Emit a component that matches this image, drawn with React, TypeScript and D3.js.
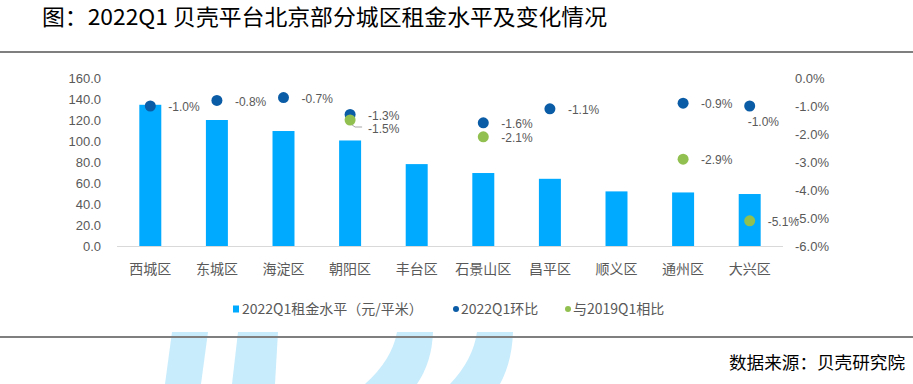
import { useEffect, useRef } from "react";
import * as d3 from "d3";

// data
const districts = ["西城区", "东城区", "海淀区", "朝阳区", "丰台区", "石景山区", "昌平区", "顺义区", "通州区", "大兴区"];
const rentLevel = [134.5, 120, 109.5, 100.5, 78, 69.5, 64, 52, 51, 49.5];
const qoqChange: (number | null)[] = [-1.0, -0.8, -0.7, -1.3, null, -1.6, -1.1, null, -0.9, -1.0];
const vs2019Change: (number | null)[] = [null, null, null, -1.5, null, -2.1, null, null, -2.9, -5.1];
const leftTicks = [0, 20, 40, 60, 80, 100, 120, 140, 160];
const rightTicks = [0, -1, -2, -3, -4, -5, -6];
const legendNames = ["2022Q1租金水平（元/平米）", "2022Q1环比", "与2019Q1相比"];

const W = 913;
const H = 384;
const BAR = "#00AAFF";
const DARK = "#0B5CA6";
const GREEN = "#92C050";
const GREY = "#595959";
const FONT = "'Noto Sans CJK SC', 'Liberation Sans', sans-serif";
const NUM_FONT = "'Liberation Sans', Arial, sans-serif";

const App = () => {
  const ref = useRef<SVGSVGElement>(null);

  useEffect(() => {
    document.body.style.margin = "0";
    const svg = d3.select(ref.current);
    svg.selectAll("*").remove();

    // watermark shapes
    const wm = svg.append("g").attr("fill", "#C8ECFC");
    wm.append("path").attr("d", "M172,332 L208,332 L201,384 L165,384 Z");
    wm.append("path").attr("d", "M238,332 L278,332 L275,384 L232,384 Z");
    wm.append("path").attr("d", "M397,332 L433,332 Q432,362 417,384 L365,384 Q392,360 397,332 Z");
    wm.append("path").attr("d", "M477,332 L513,332 Q512,362 500,384 L450,384 Q473,360 477,332 Z");

    // title and rules
    svg.append("text")
      .attr("x", 42).attr("y", 25)
      .attr("font-family", FONT).attr("font-size", 22).attr("fill", "#000")
      .attr("textLength", 565).attr("lengthAdjust", "spacingAndGlyphs")
      .text("图：2022Q1 贝壳平台北京部分城区租金水平及变化情况");
    svg.append("line").attr("x1", 0).attr("x2", W).attr("y1", 52).attr("y2", 52)
      .attr("stroke", "#7F7F7F").attr("stroke-width", 2);
    svg.append("line").attr("x1", 0).attr("x2", W).attr("y1", 337).attr("y2", 337)
      .attr("stroke", "#7F7F7F").attr("stroke-width", 2);
    svg.append("text")
      .attr("x", 905).attr("y", 369).attr("text-anchor", "end")
      .attr("font-family", FONT).attr("font-size", 17).attr("fill", "#000")
      .attr("textLength", 176).attr("lengthAdjust", "spacingAndGlyphs")
      .text("数据来源：贝壳研究院");

    const x = d3.scaleBand<string>().domain(districts).range([117, 783])
      .paddingInner(0.67).paddingOuter(0.335);
    const yL = d3.scaleLinear().domain([0, 160]).range([246, 78]);
    const yR = d3.scaleLinear().domain([-6, 0]).range([246, 78]);
    const cx = (i: number) => (x(districts[i]) as number) + x.bandwidth() / 2;

    // axis labels
    svg.append("g").selectAll("text").data(leftTicks).enter().append("text")
      .attr("x", 101).attr("y", (d) => yL(d)).attr("dy", "0.35em")
      .attr("text-anchor", "end").attr("font-family", NUM_FONT).attr("font-size", 13)
      .attr("fill", GREY).text((d) => d3.format(".1f")(d));
    svg.append("g").selectAll("text").data(rightTicks).enter().append("text")
      .attr("x", 795).attr("y", (d) => yR(d)).attr("dy", "0.35em")
      .attr("font-family", NUM_FONT).attr("font-size", 13)
      .attr("fill", GREY).text((d) => d3.format(".1f")(d).replace("−", "-") + "%");

    // bars
    svg.append("g").selectAll("rect").data(rentLevel).enter().append("rect")
      .attr("x", (_d, i) => x(districts[i]) as number)
      .attr("width", x.bandwidth())
      .attr("y", (d) => yL(d))
      .attr("height", (d) => yL(0) - yL(d))
      .attr("fill", BAR);

    svg.append("line").attr("x1", 117).attr("x2", 783).attr("y1", 246.5).attr("y2", 246.5)
      .attr("stroke", "#D9D9D9").attr("stroke-width", 1);

    svg.append("g").selectAll("text").data(districts).enter().append("text")
      .attr("x", (d) => (x(d) as number) + x.bandwidth() / 2).attr("y", 269).attr("dy", "0.35em")
      .attr("text-anchor", "middle").attr("font-family", FONT).attr("font-size", 14)
      .attr("fill", GREY).text((d) => d);

    const fmtPct = (v: number) => d3.format(".1f")(v).replace("−", "-") + "%";

    // 2022Q1 q-o-q dots
    qoqChange.forEach((v, i) => {
      if (v == null) return;
      const px = cx(i);
      const py = yR(v);
      svg.append("circle").attr("cx", px).attr("cy", py).attr("r", 5.5).attr("fill", DARK);
      const below = i === 9;
      svg.append("text")
        .attr("x", below ? px - 2 : px + 18).attr("y", below ? py + 16 : py + 1).attr("dy", "0.35em")
        .attr("font-family", NUM_FONT).attr("font-size", 12).attr("fill", GREY)
        .text(fmtPct(v));
    });

    // vs 2019Q1 dots
    vs2019Change.forEach((v, i) => {
      if (v == null) return;
      const px = cx(i);
      const py = yR(v);
      svg.append("circle").attr("cx", px).attr("cy", py).attr("r", 5.5).attr("fill", GREEN);
      const shifted = i === 3;
      if (shifted) {
        svg.append("path")
          .attr("d", `M${px + 2},${py + 5} L${px + 5},${py + 7} L${px + 12},${py + 7}`)
          .attr("fill", "none").attr("stroke", "#A6A6A6").attr("stroke-width", 1);
      }
      svg.append("text")
        .attr("x", px + 18).attr("y", shifted ? py + 9 : py + 1).attr("dy", "0.35em")
        .attr("font-family", NUM_FONT).attr("font-size", 12).attr("fill", GREY)
        .text(fmtPct(v));
    });

    // legend
    const lg = svg.append("g").attr("font-family", FONT).attr("font-size", 14).attr("fill", GREY);
    const ly = 309;
    lg.append("rect").attr("x", 233).attr("y", ly - 3.5).attr("width", 6).attr("height", 7).attr("fill", BAR);
    lg.append("text").attr("x", 242).attr("y", ly).attr("dy", "0.35em").text(legendNames[0]);
    lg.append("circle").attr("cx", 456).attr("cy", ly).attr("r", 3).attr("fill", DARK);
    lg.append("text").attr("x", 461).attr("y", ly).attr("dy", "0.35em").text(legendNames[1]);
    lg.append("circle").attr("cx", 568).attr("cy", ly).attr("r", 3).attr("fill", GREEN);
    lg.append("text").attr("x", 573).attr("y", ly).attr("dy", "0.35em").text(legendNames[2]);
  }, []);

  return (
    <svg ref={ref} width={W} height={H} style={{ display: "block", background: "#fff" }} />
  );
};

export default App;
